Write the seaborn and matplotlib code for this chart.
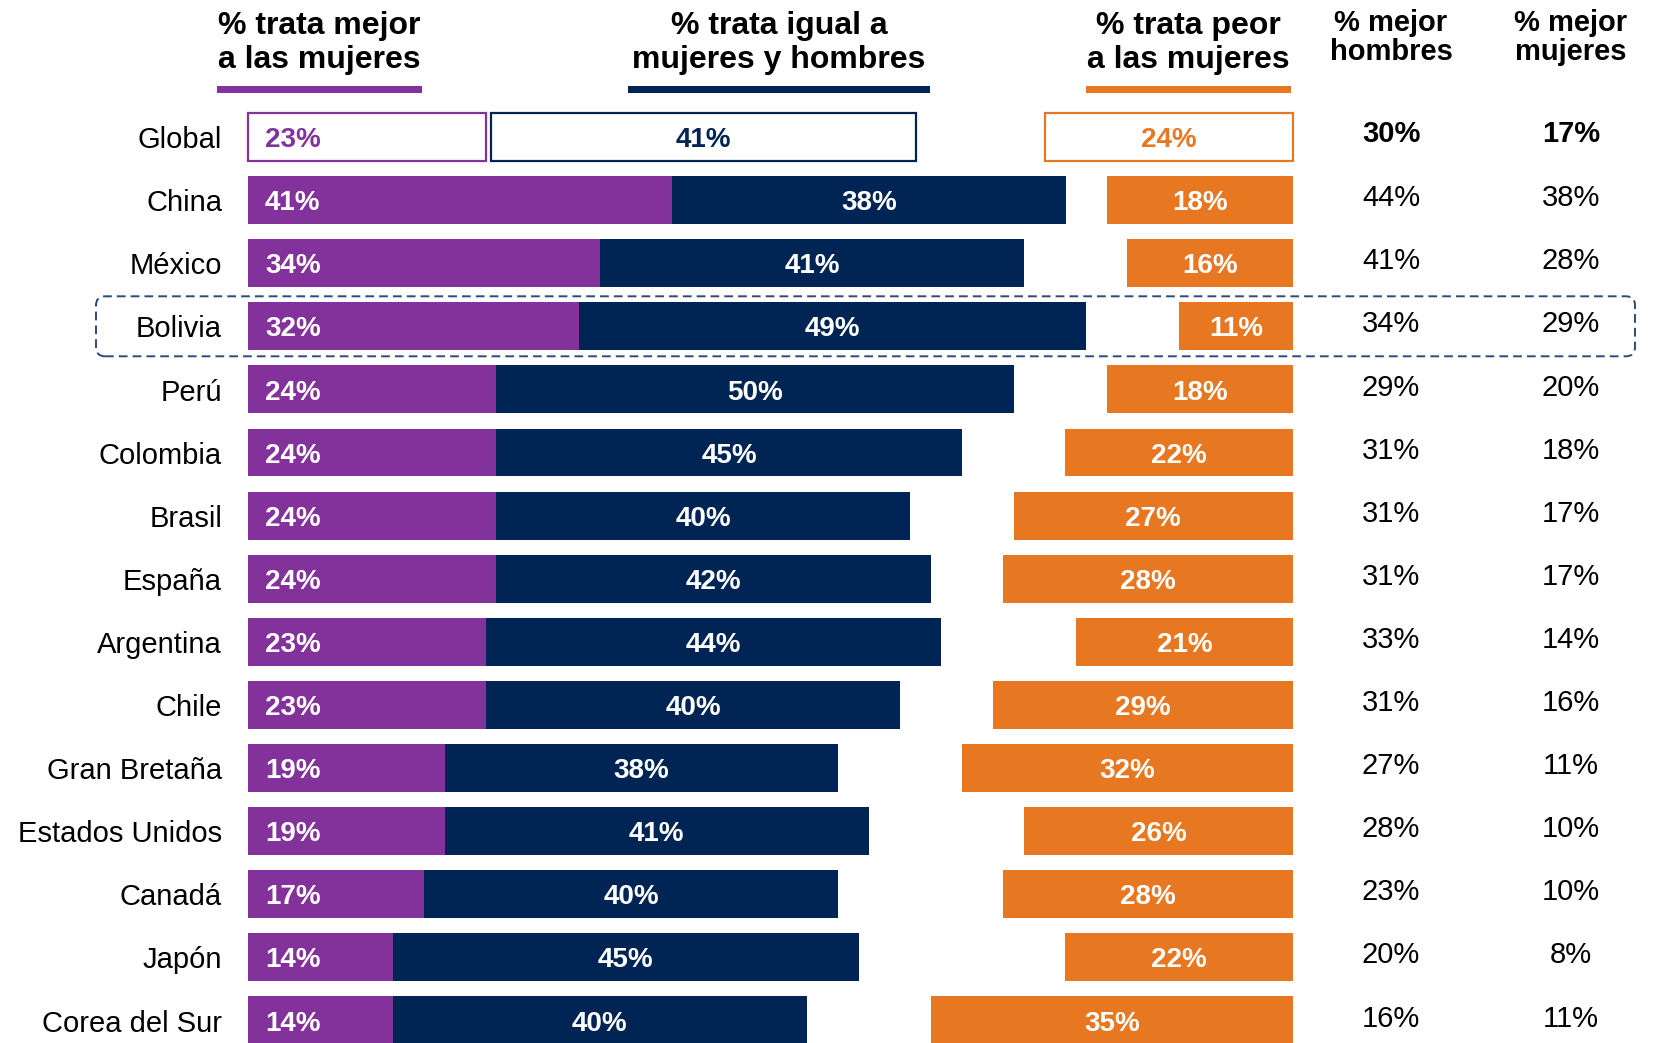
import matplotlib
matplotlib.use("Agg")
import matplotlib.pyplot as plt
from matplotlib.patches import FancyBboxPatch, Rectangle
from matplotlib.transforms import IdentityTransform
import seaborn as sns
import pandas as pd

# ---- data -------------------------------------------------------------
paises = ["China", "México", "Bolivia", "Perú", "Colombia", "Brasil", "España",
          "Argentina", "Chile", "Gran Bretaña", "Estados Unidos", "Canadá",
          "Japón", "Corea del Sur"]
mejor_mujeres = [41, 34, 32, 24, 24, 24, 24, 23, 23, 19, 19, 17, 14, 14]
igual = [38, 41, 49, 50, 45, 40, 42, 44, 40, 38, 41, 40, 45, 40]
peor_mujeres = [18, 16, 11, 18, 22, 27, 28, 21, 29, 32, 26, 28, 22, 35]
col_mejor_hombres = [44, 41, 34, 29, 31, 31, 31, 33, 31, 27, 28, 23, 20, 16]
col_mejor_mujeres = [38, 28, 29, 20, 18, 17, 17, 14, 16, 11, 10, 10, 8, 11]

global_label = "Global"
global_mejor = 23
global_igual = 41
global_peor = 24
global_col_hombres = 30
global_col_mujeres = 17

encabezados = ["% trata mejor\na las mujeres",
               "% trata igual a\nmujeres y hombres",
               "% trata peor\na las mujeres"]
encabezados_col = ["% mejor\nhombres", "% mejor\nmujeres"]
resaltado = "Bolivia"

# ---- style ------------------------------------------------------------
PURPLE = "#84329B"
NAVY = "#002554"
ORANGE = "#E87722"
sns.set_style("white")
plt.rcParams["font.family"] = ["Liberation Sans", "DejaVu Sans"]

W, H = 1655, 1043
fig = plt.figure(figsize=(W / 100, H / 100), dpi=100)
ax = fig.add_axes([0, 0, 1, 1])

# pixel layout helpers
X0, SX = 248, 10.35       # bar origin (px) and px per percentage point
Y0, SY = 137, 63.1        # first row centre (px) and row pitch (px)
RIGHT = dx_right = (1293 - X0) / SX   # right edge of the orange block
BAR_H = 0.76
TXT_DY = 0.05             # small downward nudge for row text


def dx(px):
    return (px - X0) / SX


order = [global_label] + paises
df = pd.DataFrame({"pais": paises, "mejor": mejor_mujeres, "igual": igual,
                   "peor": peor_mujeres})
df["acum"] = df["mejor"] + df["igual"]
pos = {p: i for i, p in enumerate(order)}

# stacked bars: navy total underneath, purple on top
sns.barplot(data=df, y="pais", x="acum", order=order, color=NAVY,
            saturation=1, width=BAR_H, errorbar=None, linewidth=0, ax=ax)
sns.barplot(data=df, y="pais", x="mejor", order=order, color=PURPLE,
            saturation=1, width=BAR_H, errorbar=None, linewidth=0, ax=ax)
# orange block aligned to the right
ax.barh([pos[p] for p in paises], df["peor"], left=RIGHT - df["peor"],
        height=BAR_H, color=ORANGE, linewidth=0)

# global row as outlined boxes
gap = 0.5
ax.barh(0, global_mejor, left=0, height=BAR_H, facecolor="white",
        edgecolor=PURPLE, linewidth=1.6)
ax.barh(0, global_igual, left=global_mejor + gap, height=BAR_H,
        facecolor="white", edgecolor=NAVY, linewidth=1.6)
ax.barh(0, global_peor, left=RIGHT - global_peor, height=BAR_H,
        facecolor="white", edgecolor=ORANGE, linewidth=1.6)

ax.set_xlim(dx(0), dx(W))
ax.set_ylim((H - Y0) / SY, -Y0 / SY)
ax.axis("off")

# ---- labels -----------------------------------------------------------
FS_BAR = 20
FS_TXT = 21
col1, col2 = dx(1391), dx(1571)

for i, p in enumerate(paises):
    y = pos[p] + TXT_DY
    m, g, w = mejor_mujeres[i], igual[i], peor_mujeres[i]
    ax.text(dx(222), y, p, ha="right", va="center", fontsize=FS_TXT,
            color="black")
    ax.text(dx(265), y, f"{m}%", ha="left", va="center", fontsize=FS_BAR,
            fontweight="bold", color="white")
    ax.text(m + g / 2, y, f"{g}%", ha="center", va="center", fontsize=FS_BAR,
            fontweight="bold", color="white")
    ax.text(RIGHT - w / 2, y, f"{w}%", ha="center", va="center",
            fontsize=FS_BAR, fontweight="bold", color="white")
    ax.text(col1, pos[p] - 0.03, f"{col_mejor_hombres[i]}%", ha="center",
            va="center", fontsize=FS_TXT, color="black")
    ax.text(col2, pos[p] - 0.03, f"{col_mejor_mujeres[i]}%", ha="center",
            va="center", fontsize=FS_TXT, color="black")

ax.text(dx(222), TXT_DY, global_label, ha="right", va="center",
        fontsize=FS_TXT, color="black")
ax.text(dx(265), TXT_DY, f"{global_mejor}%", ha="left", va="center",
        fontsize=FS_BAR, fontweight="bold", color=PURPLE)
ax.text(global_mejor + gap + global_igual / 2, TXT_DY, f"{global_igual}%",
        ha="center", va="center", fontsize=FS_BAR, fontweight="bold",
        color=NAVY)
ax.text(RIGHT - global_peor / 2, TXT_DY, f"{global_peor}%", ha="center",
        va="center", fontsize=FS_BAR, fontweight="bold", color=ORANGE)
ax.text(col1, -0.04, f"{global_col_hombres}%", ha="center", va="center",
        fontsize=FS_TXT, fontweight="bold", color="black")
ax.text(col2, -0.04, f"{global_col_mujeres}%", ha="center", va="center",
        fontsize=FS_TXT, fontweight="bold", color="black")

# ---- headers ----------------------------------------------------------
ident = IdentityTransform()


def fig_text(x, y, s, **kw):
    fig.text(x / W, 1 - y / H, s, **kw)


header_x = [319, 779, 1188]
header_under = [(217, 422, PURPLE), (628, 930, NAVY), (1086, 1291, ORANGE)]
for cx, txt in zip(header_x, encabezados):
    l1, l2 = txt.split("\n")
    fig_text(cx, 34, l1, ha="center", va="baseline", fontsize=23,
             fontweight="bold", color="black")
    fig_text(cx, 68, l2, ha="center", va="baseline", fontsize=23,
             fontweight="bold", color="black")
for x_a, x_b, c in header_under:
    fig.patches.append(Rectangle((x_a, H - 93), x_b - x_a, 7, facecolor=c,
                                 edgecolor="none", transform=ident))

for cx, txt in zip([1391, 1571], encabezados_col):
    l1, l2 = txt.split("\n")
    fig_text(cx, 31, l1, ha="center", va="baseline", fontsize=21,
             fontweight="bold", color="black")
    fig_text(cx, 60, l2, ha="center", va="baseline", fontsize=21,
             fontweight="bold", color="black")

# dashed highlight around one row
yr = Y0 + SY * pos[resaltado]
box = FancyBboxPatch((96, H - (yr + 30)), 1539, 60,
                     boxstyle="round,pad=0,rounding_size=9",
                     transform=ident, fill=False, edgecolor="#2E4A7A",
                     linewidth=1.4, linestyle=(0, (4.5, 2.6)))
fig.patches.append(box)

fig.savefig("out.png", dpi=100)
